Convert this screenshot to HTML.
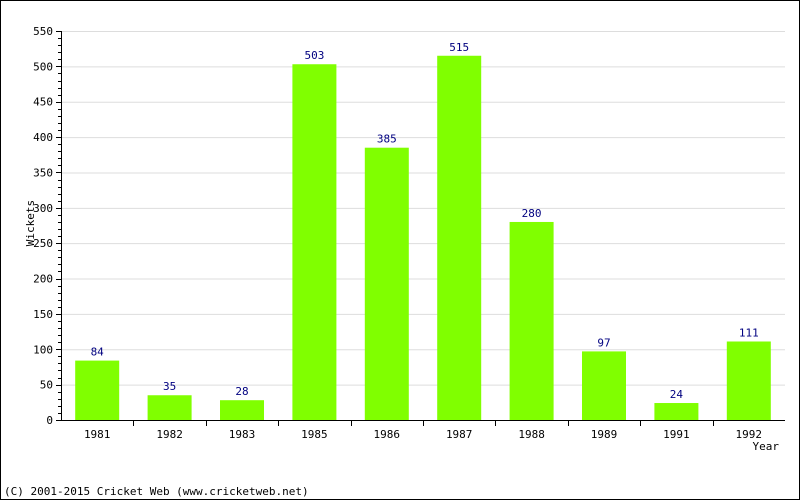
<!DOCTYPE html>
<html><head><meta charset="utf-8"><style>
body{margin:0;background:#fff}
svg{display:block;font-family:"DejaVu Sans Mono","Liberation Mono",monospace;font-size:11px}
</style></head><body>
<svg id="chart" width="800" height="500">
<rect x="0.5" y="0.5" width="799" height="499" fill="#fff" stroke="#000"/>
<g id="grid"></g><g id="bars"></g><g id="axes"></g>
<text x="36" y="225" transform="rotate(-90 34 225)" text-anchor="middle">Wickets</text>
<text x="779" y="450" text-anchor="end">Year</text>
<text x="4" y="495">(C) 2001-2015 Cricket Web (www.cricketweb.net)</text>
</svg>
<script>
const categories=["1981","1982","1983","1985","1986","1987","1988","1989","1991","1992"];
const wickets=[84,35,28,503,385,515,280,97,24,111];
const yTicks=[0,50,100,150,200,250,300,350,400,450,500,550];
const X0=61,X1=785,Y0=420,Y1=31,YMAX=550;
const ns="http://www.w3.org/2000/svg";
const y=v=>Y0-(v/YMAX)*(Y0-Y1);
const band=(X1-X0)/categories.length;
const x=i=>X0+band*i;
function mk(t,a,p){const e=document.createElementNS(ns,t);for(const k in a)e.setAttribute(k,a[k]);p.appendChild(e);return e;}
const grid=document.getElementById('grid'),bars=document.getElementById('bars'),axes=document.getElementById('axes');
yTicks.forEach(v=>{
 if(v>0){const g=mk('line',{x1:X0,x2:X1,y1:y(v)+.5,y2:y(v)+.5,stroke:'#dddddd'},grid);
 
 }
 const t=mk('line',{x1:X0-5,x2:X0,y1:Math.round(y(v))+.5,y2:Math.round(y(v))+.5,stroke:'#000'},axes);
 
 
 const l=mk('text',{x:X0-8,y:y(v)+4,'text-anchor':'end'},axes);l.textContent=v;
 
 
});
for(let v=10;v<YMAX;v+=10){if(v%50===0)continue;
 const m=mk('line',{x1:X0-3,x2:X0,y1:Math.round(y(v))+.5,y2:Math.round(y(v))+.5,stroke:'#000'},axes);
 
 }
categories.forEach((c,i)=>{
 const cx=x(i)+band/2,w=44;
 const r=mk('rect',{x:cx-w/2,y:y(wickets[i]),width:w,height:Y0-y(wickets[i]),fill:'#80ff00'},bars);
 
 
 const v=mk('text',{x:cx,y:y(wickets[i])-5,'text-anchor':'middle',fill:'#000080'},bars);v.textContent=wickets[i];
 
 
 const l=mk('text',{x:cx,y:438,'text-anchor':'middle'},axes);l.textContent=c;
 
 
 if(i>0){const t=mk('line',{x1:Math.round(x(i))+.5,x2:Math.round(x(i))+.5,y1:Y0,y2:Y0+6,stroke:'#000'},axes);
 
 }
});
const ya=mk('line',{x1:X0+.5,x2:X0+.5,y1:Y1,y2:Y0+.5,stroke:'#000'},axes);


const xa=mk('line',{x1:X0,x2:X1,y1:Y0+.5,y2:Y0+.5,stroke:'#000'},axes);


</script>
</body></html>
